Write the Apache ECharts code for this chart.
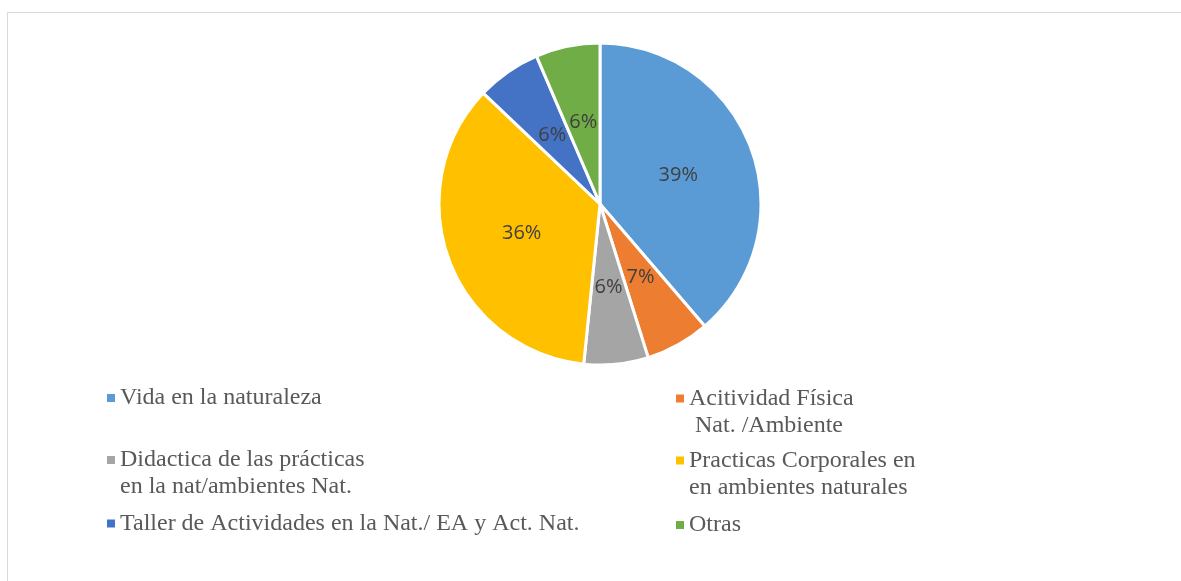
<!DOCTYPE html>
<html>
<head>
<meta charset="utf-8">
<title>pie</title>
<script src="https://cdn.jsdelivr.net/npm/echarts@6/dist/echarts.min.js"></script>
<style>
  html, body { margin: 0; padding: 0; background: #fff; }
  #chart { width: 1181px; height: 581px; }
</style>
</head>
<body>
<div id="chart"></div>
<script>
// 类别 (legend names, \n = second line)
var categories = [
  'Vida en la naturaleza',
  'Acitividad Física\n Nat. /Ambiente',
  'Didactica de las prácticas\nen la nat/ambientes Nat.',
  'Practicas Corporales en\nen ambientes naturales',
  'Taller de Actividades en la Nat./ EA y Act. Nat.',
  'Otras'
];
// 数据
var counts = [12, 2, 2, 11, 2, 2];
var colors = ['#5B9BD5', '#ED7D31', '#A5A5A5', '#FFC000', '#4472C4', '#70AD47'];

// legend positions, left column / right column
var legendPos = [
  { left: 107, top: 384.5 },
  { left: 676, top: 358 },
  { left: 107, top: 419.5 },
  { left: 676, top: 420 },
  { left: 107, top: 510 },
  { left: 676, top: 511.5 }
];

var chart = echarts.init(document.getElementById('chart'), null, { renderer: 'canvas' });

var legends = categories.map(function (name, i) {
  return {
    data: [name],
    left: legendPos[i].left,
    top: legendPos[i].top,
    padding: 0,
    itemWidth: 8,
    itemHeight: 8,
    icon: 'rect',
    itemStyle: { borderWidth: 0 },
    selectedMode: false,
    formatter: function (n) {
      // keep the square beside the first line
      return n.indexOf('\n') >= 0 ? '\n' + n : n;
    },
    textStyle: {
      fontFamily: 'Liberation Serif',
      fontSize: 24,
      lineHeight: 27,
      color: '#595959'
    }
  };
});

chart.setOption({
  animation: false,
  color: colors,
  graphic: [{
    type: 'rect',
    shape: { x: 7.5, y: 12.5, width: 1180, height: 600 },
    style: { fill: 'none', stroke: '#D9D9D9', lineWidth: 1 },
    silent: true
  }],
  legend: legends,
  series: [{
    type: 'pie',
    center: [600, 204],
    radius: 161,
    startAngle: 90,
    clockwise: true,
    percentPrecision: 0,
    itemStyle: {
      borderColor: '#fff',
      borderWidth: 3
    },
    label: {
      show: true,
      position: 'inside',
      formatter: '{d}%',
      fontFamily: 'Open Sans',
      fontSize: 20,
      color: '#404040'
    },
    labelLayout: { hideOverlap: false },
    labelLine: { show: false },
    emphasis: { disabled: true },
    data: categories.map(function (name, i) {
      return { name: name, value: counts[i] };
    })
  }]
});
</script>
</body>
</html>
